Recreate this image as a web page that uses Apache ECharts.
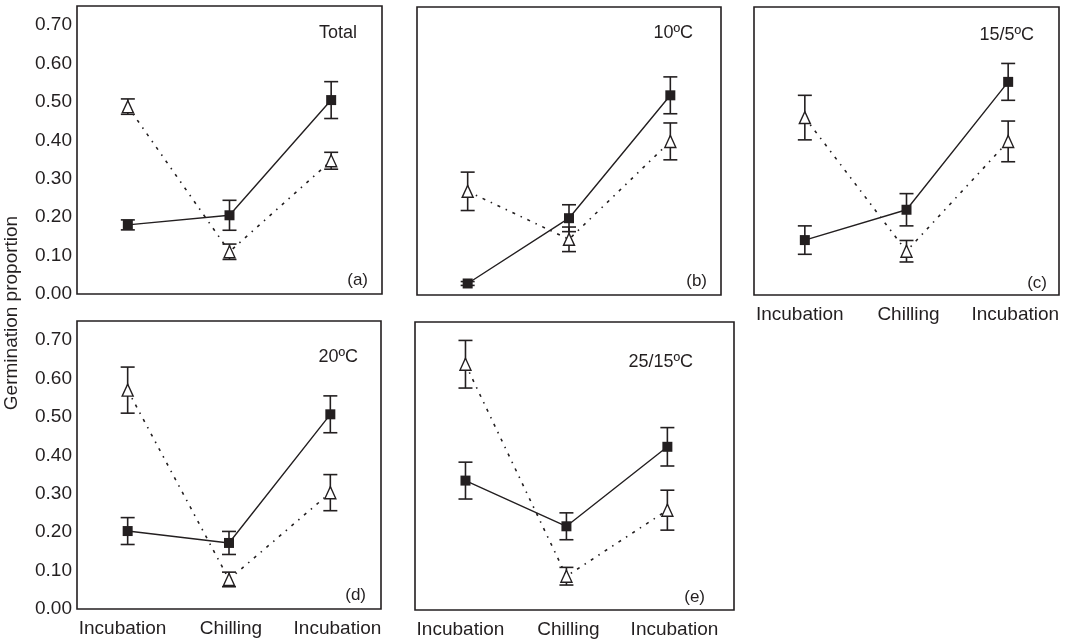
<!DOCTYPE html>
<html>
<head>
<meta charset="utf-8">
<script src="https://cdn.jsdelivr.net/npm/echarts@6/dist/echarts.min.js"></script>
<style>
html,body{margin:0;padding:0;background:#fff;}
#chart{width:1072px;height:643px;}
</style>
</head>
<body>
<div id="chart"></div>
<script>
// ---- data ----
const categories = ['Incubation', 'Chilling', 'Incubation'];
const panelNames = ['Total', '10ºC', '15/5ºC', '20ºC', '25/15ºC'];
const panelLetters = ['(a)', '(b)', '(c)', '(d)', '(e)'];
const yTicks = [0, 0.1, 0.2, 0.3, 0.4, 0.5, 0.6, 0.7];

const totalSquare   = [0.180, 0.205, 0.505];
const totalSquareErr= [0.013, 0.039, 0.048];
const totalTri      = [0.488, 0.110, 0.347];
const totalTriErr   = [0.020, 0.020, 0.022];

const t10Square     = [0.030, 0.200, 0.520];
const t10SquareErr  = [0.005, 0.035, 0.048];
const t10Tri        = [0.270, 0.145, 0.400];
const t10TriErr     = [0.050, 0.032, 0.048];

const t155Square    = [0.143, 0.222, 0.555];
const t155SquareErr = [0.037, 0.042, 0.048];
const t155Tri       = [0.462, 0.114, 0.400];
const t155TriErr    = [0.058, 0.028, 0.053];

const t20Square     = [0.203, 0.172, 0.507];
const t20SquareErr  = [0.035, 0.030, 0.048];
const t20Tri        = [0.570, 0.077, 0.303];
const t20TriErr     = [0.060, 0.019, 0.047];

const t2515Square   = [0.337, 0.218, 0.425];
const t2515SquareErr= [0.048, 0.035, 0.050];
const t2515Tri      = [0.640, 0.088, 0.260];
const t2515TriErr   = [0.062, 0.023, 0.052];

const panelData = [
  [totalSquare, totalSquareErr, totalTri, totalTriErr],
  [t10Square, t10SquareErr, t10Tri, t10TriErr],
  [t155Square, t155SquareErr, t155Tri, t155TriErr],
  [t20Square, t20SquareErr, t20Tri, t20TriErr],
  [t2515Square, t2515SquareErr, t2515Tri, t2515TriErr]
];

// ---- layout / style ----
const INK = '#231f20';
const FONT = '"Liberation Sans", Arial, sans-serif';
const labelSlots = [0.95, 2.02, 3.07]; // label placement along x (style)
const boxes = [
  {left: 77,  top: 6,   width: 305, height: 288, xMax: 3.5,  yLabels: true,  xLabels: false},
  {left: 417, top: 7,   width: 304, height: 288, xMax: 3.5,  yLabels: false, xLabels: false},
  {left: 754, top: 7,   width: 305, height: 288, xMax: 3.5,  yLabels: false, xLabels: true},
  {left: 77,  top: 321, width: 304, height: 288, xMax: 3.5,  yLabels: true,  xLabels: true},
  {left: 415, top: 322, width: 319, height: 288, xMax: 3.66, yLabels: false, xLabels: true}
];
const titlePos = [[357, 33], [693, 33], [1034, 35], [358, 357], [693, 362]];
const letterPos = [[368, 280], [707, 281], [1047, 283], [366, 595], [705, 597]];

const grid = [], xAxis = [], yAxis = [], series = [], graphic = [];

function errRender(params, api) {
  const x = api.value(0);
  const lo = api.coord([x, api.value(1)]);
  const hi = api.coord([x, api.value(2)]);
  const hw = 7;
  const st = {stroke: INK, lineWidth: 1.6};
  return {
    type: 'group',
    children: [
      {type: 'line', shape: {x1: lo[0], y1: lo[1], x2: hi[0], y2: hi[1]}, style: st},
      {type: 'line', shape: {x1: lo[0] - hw, y1: lo[1], x2: lo[0] + hw, y2: lo[1]}, style: st},
      {type: 'line', shape: {x1: hi[0] - hw, y1: hi[1], x2: hi[0] + hw, y2: hi[1]}, style: st}
    ]
  };
}

boxes.forEach((b, i) => {
  grid.push({left: b.left, top: b.top, width: b.width, height: b.height,
    show: true, borderColor: INK, borderWidth: 1.6, backgroundColor: 'transparent'});
  xAxis.push({
    type: 'value', gridIndex: i, min: 0.5, max: b.xMax,
    axisLine: {show: false}, axisTick: {show: false}, splitLine: {show: false},
    axisLabel: {
      show: b.xLabels, customValues: labelSlots, margin: 10,
      color: INK, fontFamily: FONT, fontSize: 19,
      formatter: v => categories[Math.round(v) - 1] || ''
    }
  });
  yAxis.push({
    type: 'value', gridIndex: i, min: 0, max: 0.75,
    axisLine: {show: false}, axisTick: {show: false}, splitLine: {show: false},
    axisLabel: {
      show: b.yLabels, customValues: yTicks, margin: 5,
      color: INK, fontFamily: FONT, fontSize: 19,
      formatter: v => v.toFixed(2)
    }
  });
  const [sq, sqE, tr, trE] = panelData[i];
  const sqErr = sq.map((v, k) => [k + 1, v - sqE[k], v + sqE[k]]);
  const trErr = tr.map((v, k) => [k + 1, v - trE[k], v + trE[k]]);
  series.push({type: 'custom', xAxisIndex: i, yAxisIndex: i, renderItem: errRender,
    data: trErr, z: 2, silent: true, clip: false});
  series.push({type: 'custom', xAxisIndex: i, yAxisIndex: i, renderItem: errRender,
    data: sqErr, z: 2, silent: true, clip: false});
  series.push({
    type: 'line', xAxisIndex: i, yAxisIndex: i, z: 3,
    data: tr.map((v, k) => [k + 1, v]),
    symbol: 'triangle', symbolSize: [11, 12],
    lineStyle: {color: INK, width: 1.6, type: [3, 6, 1.5, 6]},
    itemStyle: {color: '#fff', borderColor: INK, borderWidth: 1.4},
    animation: false
  });
  series.push({
    type: 'line', xAxisIndex: i, yAxisIndex: i, z: 4,
    data: sq.map((v, k) => [k + 1, v]),
    symbol: 'rect', symbolSize: 10,
    lineStyle: {color: INK, width: 1.4, type: 'solid'},
    itemStyle: {color: INK, borderColor: INK, borderWidth: 0},
    animation: false
  });
  graphic.push({type: 'text', x: titlePos[i][0], y: titlePos[i][1],
    style: {text: panelNames[i], fill: INK, font: '18px ' + FONT, align: 'right', verticalAlign: 'middle'}});
  graphic.push({type: 'text', x: letterPos[i][0], y: letterPos[i][1],
    style: {text: panelLetters[i], fill: INK, font: '17px ' + FONT, align: 'right', verticalAlign: 'middle'}});
});

graphic.push({type: 'text', x: 12, y: 313, rotation: Math.PI / 2,
  style: {text: 'Germination proportion', fill: INK, font: '19px ' + FONT, align: 'center', verticalAlign: 'middle'}});

const chart = echarts.init(document.getElementById('chart'), null, {renderer: 'canvas'});
chart.setOption({
  animation: false,
  backgroundColor: '#fff',
  grid, xAxis, yAxis, series, graphic
});
</script>
</body>
</html>
